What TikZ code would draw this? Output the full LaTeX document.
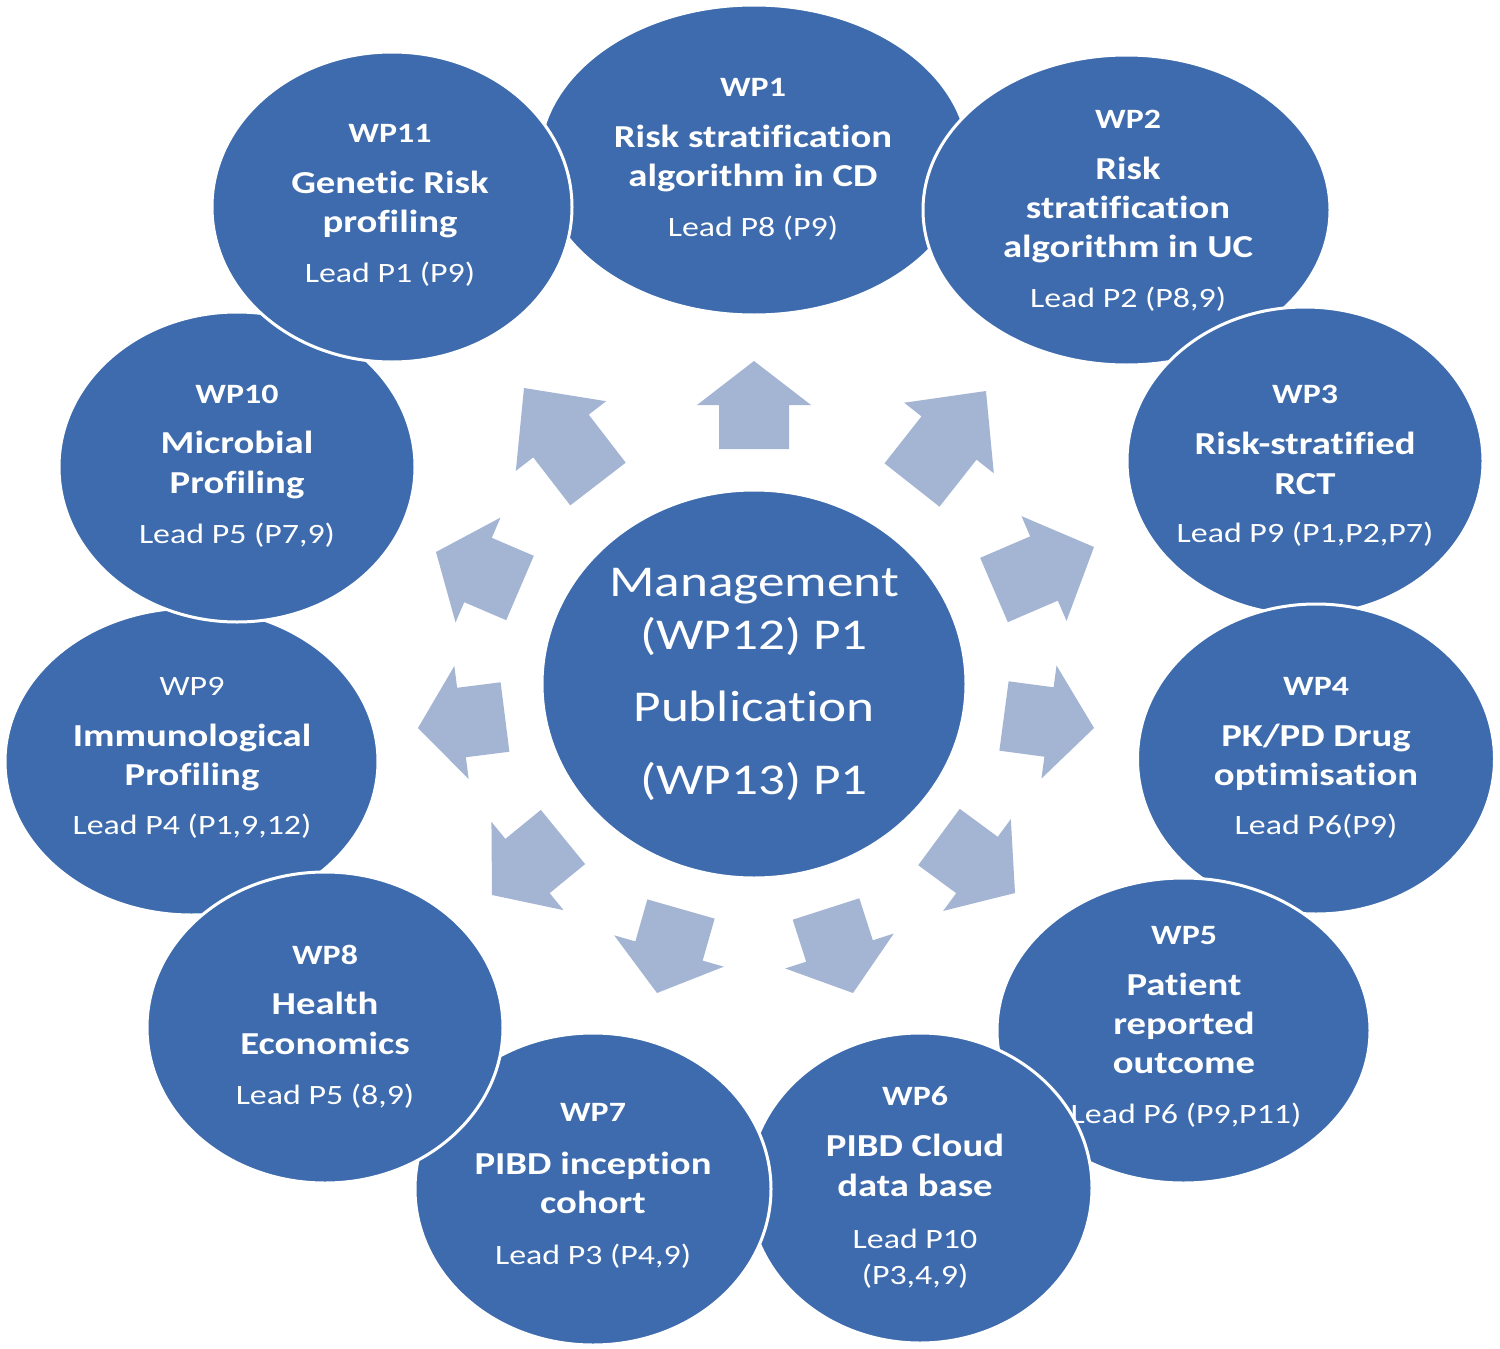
\documentclass[tikz,border=0pt]{standalone}
\usepackage{fontspec}
\setmainfont{Carlito}[FakeStretch=1.21,Ligatures=NoCommon]
\usetikzlibrary{shapes.geometric,calc}
\definecolor{wpblue}{RGB}{61,107,173}
\definecolor{arrblue}{RGB}{164,181,212}
\tikzset{
  wpell/.style={ellipse, fill=wpblue, draw=white, line width=3pt, inner sep=0pt, outer sep=0pt},
  hd/.style={anchor=base, inner sep=0pt, text=white, font=\fontsize{28}{34}\selectfont\bfseries, yshift=-8.5pt},
  hdr/.style={anchor=base, inner sep=0pt, text=white, font=\fontsize{28}{34}\selectfont, yshift=-8.5pt},
  tt/.style={anchor=base, inner sep=0pt, text=white, font=\fontsize{32}{38}\selectfont\bfseries, yshift=-9.6pt},
  ld/.style={anchor=base, inner sep=0pt, text=white, font=\fontsize{28}{34}\selectfont, yshift=-8.5pt},
  ctr/.style={anchor=base, inner sep=0pt, text=white, font=\fontsize{44}{53}\selectfont, yshift=-13pt},
  arr/.style={fill=arrblue},
}
\newcommand\blockarr[2]{%
  \coordinate (hh) at ($(#1)!0.5!(#2)$);
  \fill[arr] ($(#1)!35pt!90:(#2)$) -- ($(hh)!35pt!90:(#2)$) -- ($(hh)!57pt!90:(#2)$) -- (#2)
    -- ($(hh)!57pt!-90:(#2)$) -- ($(hh)!35pt!-90:(#2)$) -- ($(#1)!35pt!-90:(#2)$) -- cycle;}
\begin{document}
\begin{tikzpicture}[x=1pt,y=-1pt]
\fill[white] (0,0) rectangle (1500,1349);
\useasboundingbox (0,0) rectangle (1500,1349);

% centre
\node[wpell, minimum width=424pt, minimum height=388pt] (ctr) at (754,684) {};
\node[ctr] (c1) at (754,583) {Management};
\node[ctr] (c2) at (754,636) {(WP12) P1};
\node[ctr] (c3) at (754,708) {Publication};
\node[ctr] (c4) at (754,781) {(WP13) P1};

% arrows
\coordinate (a1b) at (754,449);  \coordinate (a1t) at (754,361);
\coordinate (a2b) at (912,485);  \coordinate (a2t) at (986,391);
\coordinate (a3b) at (994,590);  \coordinate (a3t) at (1094,547);
\coordinate (a4b) at (1004,716); \coordinate (a4t) at (1094,728);
\coordinate (a5b) at (939,837);  \coordinate (a5t) at (1015,893);
\coordinate (a6b) at (826,909);  \coordinate (a6t) at (853,993);
\coordinate (a7b) at (681,909);  \coordinate (a7t) at (657,993);
\coordinate (a8b) at (563,837);  \coordinate (a8t) at (492,895);
\coordinate (a9b) at (505,717);  \coordinate (a9t) at (418,728);
\coordinate (a10b) at (520,588); \coordinate (a10t) at (436,552);
\coordinate (a11b) at (598,484); \coordinate (a11t) at (524,388);
\blockarr{a1b}{a1t}
\blockarr{a2b}{a2t}
\blockarr{a3b}{a3t}
\blockarr{a4b}{a4t}
\blockarr{a5b}{a5t}
\blockarr{a6b}{a6t}
\blockarr{a7b}{a7t}
\blockarr{a8b}{a8t}
\blockarr{a9b}{a9t}
\blockarr{a10b}{a10t}
\blockarr{a11b}{a11t}

% WP9
\node[wpell, minimum width=373pt, minimum height=307pt] (wp9) at (191.5,761.5) {};
\node[hdr] (wp9a) at (192,687) {WP9};
\node[tt] (wp9b) at (192,737) {Immunological};
\node[tt] (wp9c) at (192,776) {Profiling};
\node[ld] (wp9d) at (192,826) {Lead P4 (P1,9,12)};

% WP1
\node[wpell, minimum width=430pt, minimum height=310pt] (wp1) at (754,160) {};
\node[hd] (wp1a) at (753,88) {WP1};
\node[tt] (wp1b) at (753,138) {Risk stratification};
\node[tt] (wp1c) at (753,177) {algorithm in CD};
\node[ld] (wp1d) at (753,228) {Lead P8 (P9)};

% WP2
\node[wpell, minimum width=407pt, minimum height=310pt] (wp2) at (1126.5,210) {};
\node[hd] (wp2a) at (1128,120) {WP2};
\node[tt] (wp2b) at (1128,170) {Risk};
\node[tt] (wp2c) at (1128,209) {stratification};
\node[tt] (wp2d) at (1128,248) {algorithm in UC};
\node[ld] (wp2e) at (1128,299) {Lead P2 (P8,9)};

% WP3
\node[wpell, minimum width=356pt, minimum height=308pt] (wp3) at (1305,461) {};
\node[hd] (wp3a) at (1305,395) {WP3};
\node[tt] (wp3b) at (1305,445) {Risk-stratified};
\node[tt] (wp3c) at (1305,485) {RCT};
\node[ld] (wp3d) at (1305,534) {Lead P9 (P1,P2,P7)};

% WP4
\node[wpell, minimum width=357pt, minimum height=310pt] (wp4) at (1316,759) {};
\node[hd] (wp4a) at (1316,687) {WP4};
\node[tt] (wp4b) at (1316,737) {PK/PD Drug};
\node[tt] (wp4c) at (1316,776) {optimisation};
\node[ld] (wp4d) at (1316,826) {Lead P6(P9)};

% WP5
\node[wpell, minimum width=373pt, minimum height=305pt] (wp5) at (1183.5,1030.5) {};
\node[hd] (wp5a) at (1184,936) {WP5};
\node[tt] (wp5b) at (1184,986) {Patient};
\node[tt] (wp5c) at (1184,1025) {reported};
\node[tt] (wp5d) at (1184,1064) {outcome};
\node[ld] (wp5e) at (1186,1115) {Lead P6 (P9,P11)};

% WP6
\node[wpell, minimum width=344pt, minimum height=310pt] (wp6) at (920,1188) {};
\node[hd] (wp6a) at (915,1097) {WP6};
\node[tt] (wp6b) at (915,1147) {PIBD Cloud};
\node[tt] (wp6c) at (915,1187) {data base};
\node[ld] (wp6d) at (915,1240) {Lead P10};
\node[ld] (wp6e) at (915,1276) {(P3,4,9)};

% WP7
\node[wpell, minimum width=356pt, minimum height=312pt] (wp7) at (593,1189) {};
\node[hd] (wp7a) at (593,1113) {WP7};
\node[tt] (wp7b) at (593,1165) {PIBD inception};
\node[tt] (wp7c) at (593,1204) {cohort};
\node[ld] (wp7d) at (593,1256) {Lead P3 (P4,9)};

% WP8
\node[wpell, minimum width=356pt, minimum height=311pt] (wp8) at (325,1027.5) {};
\node[hd] (wp8a) at (325,956) {WP8};
\node[tt] (wp8b) at (325,1005) {Health};
\node[tt] (wp8c) at (325,1045) {Economics};
\node[ld] (wp8d) at (325,1096) {Lead P5 (8,9)};

% WP10
\node[wpell, minimum width=356pt, minimum height=310pt] (wp10) at (237,467) {};
\node[hd] (wp10a) at (237,395) {WP10};
\node[tt] (wp10b) at (237,444) {Microbial};
\node[tt] (wp10c) at (237,484) {Profiling};
\node[ld] (wp10d) at (237,535) {Lead P5 (P7,9)};

% WP11
\node[wpell, minimum width=360pt, minimum height=310pt] (wp11) at (392,207) {};
\node[hd] (wp11a) at (390,134) {WP11};
\node[tt] (wp11b) at (390,184) {Genetic Risk};
\node[tt] (wp11c) at (390,223) {profiling};
\node[ld] (wp11d) at (390,274) {Lead P1 (P9)};
\end{tikzpicture}
\end{document}
